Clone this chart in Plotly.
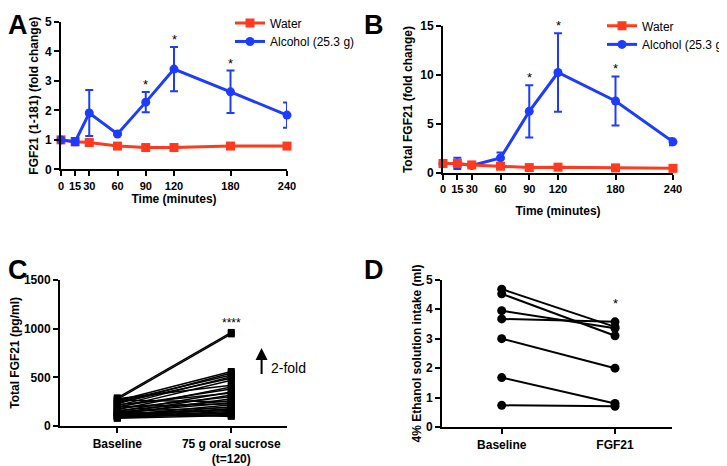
import plotly.graph_objects as go

W, H = 727, 466
# the page body has an 8px margin, so page pixel p sits at figure pixel p - 8
OFF = 8
FONT = "Liberation Sans, Arial, sans-serif"
RED = "#FF3A1E"
BLUE = "#1E3CFF"

# Panels A and B: time course
time = [0, 15, 30, 60, 90, 120, 180, 240]
a_water = [1.0, 0.94, 0.91, 0.79, 0.74, 0.74, 0.79, 0.79]
a_water_err = [0.04, 0.05, 0.10, 0.05, 0.05, 0.11, 0.07, 0.07]
a_alc = [1.0, 0.94, 1.91, 1.20, 2.28, 3.40, 2.63, 1.84]
a_alc_err = [0.03, 0.12, 0.78, 0.03, 0.34, 0.75, 0.72, 0.43]
a_star_times = [90, 120, 180]

b_water = [1.0, 1.0, 0.85, 0.72, 0.58, 0.62, 0.55, 0.50]
b_water_err = [0.12, 0.10, 0.10, 0.10, 0.08, 0.08, 0.08, 0.08]
b_alc = [1.0, 1.0, 0.80, 1.56, 6.30, 10.25, 7.35, 3.20]
b_alc_err = [0.05, 0.57, 0.10, 0.55, 2.65, 4.00, 2.50, 0.35]
b_star_times = [90, 120, 180]

# Panel C: paired individual values (pg/ml)
c_baseline = [290, 275, 260, 230, 250, 210, 240, 190, 280, 170, 200, 150, 220, 130,
              180, 265, 120, 160, 140, 200, 110, 100, 150, 90, 130, 120, 100, 85,
              110, 95, 80, 140]
c_sucrose = [960, 945, 560, 545, 525, 505, 490, 470, 420, 400, 380, 350, 340, 320,
             300, 250, 280, 260, 240, 230, 220, 200, 190, 180, 170, 160, 150, 140,
             130, 120, 110, 100]
c_labels = ["Baseline", "75 g oral sucrose<br>(t=120)"]

# Panel D: paired ethanol intake (ml)
d_baseline = [4.68, 4.52, 3.95, 3.67, 3.00, 1.68, 0.74]
d_fgf21 = [3.40, 3.10, 3.35, 3.57, 2.00, 0.80, 0.71]
d_labels = ["Baseline", "FGF21"]

fig = go.Figure()

# ---- Panel A
fig.add_trace(go.Scatter(x=time, y=a_water, mode="lines+markers", name="Water",
                         line=dict(color=RED, width=3), marker=dict(symbol="square", size=9, color=RED),
                         error_y=dict(type="data", array=a_water_err, color=RED, thickness=2, width=4),
                         xaxis="x", yaxis="y", legend="legend", cliponaxis=False))
fig.add_trace(go.Scatter(x=time, y=a_alc, mode="lines+markers", name="Alcohol (25.3 g)",
                         line=dict(color=BLUE, width=3), marker=dict(symbol="circle", size=9, color=BLUE),
                         error_y=dict(type="data", array=a_alc_err, color=BLUE, thickness=2, width=4),
                         xaxis="x", yaxis="y", legend="legend3", cliponaxis=False))

# ---- Panel B
fig.add_trace(go.Scatter(x=time, y=b_alc, mode="lines+markers", name="Alcohol (25.3 g)",
                         line=dict(color=BLUE, width=3), marker=dict(symbol="circle", size=9, color=BLUE),
                         error_y=dict(type="data", array=b_alc_err, color=BLUE, thickness=2, width=4),
                         xaxis="x2", yaxis="y2", legend="legend4", cliponaxis=False))
fig.add_trace(go.Scatter(x=time, y=b_water, mode="lines+markers", name="Water",
                         line=dict(color=RED, width=3), marker=dict(symbol="square", size=9, color=RED),
                         error_y=dict(type="data", array=b_water_err, color=RED, thickness=2, width=4),
                         xaxis="x2", yaxis="y2", legend="legend2", cliponaxis=False))

# ---- Panel C
for b, s in zip(c_baseline, c_sucrose):
    fig.add_trace(go.Scatter(x=[0, 1], y=[b, s], mode="lines+markers", showlegend=False,
                             line=dict(color="black", width=1.5),
                             marker=dict(symbol="square", size=7, color="black"),
                             xaxis="x3", yaxis="y3", cliponaxis=False))

# ---- Panel D
for b, f in zip(d_baseline, d_fgf21):
    fig.add_trace(go.Scatter(x=[0, 1], y=[b, f], mode="lines+markers", showlegend=False,
                             line=dict(color="black", width=2),
                             marker=dict(symbol="circle", size=9, color="black"),
                             xaxis="x4", yaxis="y4", cliponaxis=False))

tickfont = dict(family=FONT, size=12, color="black", weight="bold")
xtickfont = dict(family=FONT, size=11, color="black", weight="bold")
titlefont = dict(family=FONT, size=12, color="black", weight="bold")
legfont = dict(family=FONT, size=12, color="black")


def px_x(p):
    return (p - OFF) / W


def px_y(p):
    return 1 - (p - OFF) / H


def ax(domain, rng, **kw):
    d = dict(domain=domain, range=rng, showline=True, linecolor="black", linewidth=2,
             ticks="outside", ticklen=5, tickwidth=2, tickcolor="black", showgrid=False,
             zeroline=False, tickfont=tickfont, fixedrange=True, automargin=False, tickangle=0)
    d.update(kw)
    return d


def leg(x, y):
    return dict(x=px_x(x), y=px_y(y), xanchor="left", yanchor="middle", bgcolor="rgba(0,0,0,0)",
                font=legfont, itemwidth=30)


fig.update_layout(
    width=W, height=H, margin=dict(l=0, r=0, t=0, b=0),
    paper_bgcolor="white", plot_bgcolor="white",
    font=dict(family=FONT, color="black"),
    xaxis=ax([px_x(61), px_x(287)], [0, 240], tickvals=time, anchor="y", tickfont=xtickfont,
             title=dict(text="Time (minutes)", font=titlefont, standoff=4)),
    yaxis=ax([px_y(162), px_y(11)], [0, 5], tickvals=[0, 1, 2, 3, 4, 5], anchor="x",
             title=dict(text="FGF21 (1-181) (fold change)", font=titlefont, standoff=4)),
    xaxis2=ax([px_x(443), px_x(673)], [0, 240], tickvals=time, anchor="y2", tickfont=xtickfont,
              title=dict(text="Time (minutes)", font=titlefont, standoff=12)),
    yaxis2=ax([px_y(166), px_y(15)], [0, 15], tickvals=[0, 5, 10, 15], anchor="x2",
              title=dict(text="Total FGF21 (fold change)", font=titlefont, standoff=5)),
    xaxis3=ax([px_x(60), px_x(287)], [-0.503, 1.489], tickvals=[0, 1], ticktext=c_labels, anchor="y3"),
    yaxis3=ax([px_y(425), px_y(275)], [0, 1500], tickvals=[0, 500, 1000, 1500], anchor="x3",
              title=dict(text="Total FGF21 (pg/ml)", font=titlefont, standoff=4)),
    xaxis4=ax([px_x(442), px_x(672)], [-0.527, 1.503], tickvals=[0, 1], ticktext=d_labels, anchor="y4"),
    yaxis4=ax([px_y(426), px_y(275)], [0, 5], tickvals=[0, 1, 2, 3, 4, 5], anchor="x4",
              title=dict(text="4% Ethanol solution intake (ml)", font=titlefont, standoff=2)),
    legend=leg(230, 12),
    legend3=leg(230, 31),
    legend2=leg(602, 15),
    legend4=leg(602, 34),
)

ann = []
# significance stars
for t in a_star_times:
    i = time.index(t)
    ann.append(dict(x=t, y=a_alc[i] + a_alc_err[i], xref="x", yref="y", text="*", showarrow=False,
                    yanchor="bottom", yshift=-2, font=dict(family=FONT, size=13, color="black")))
for t in b_star_times:
    i = time.index(t)
    ann.append(dict(x=t, y=b_alc[i] + b_alc_err[i], xref="x2", yref="y2", text="*", showarrow=False,
                    yanchor="bottom", yshift=-2, font=dict(family=FONT, size=13, color="black")))
ann.append(dict(x=1, y=max(c_sucrose), xref="x3", yref="y3", text="****", showarrow=False,
                yanchor="bottom", yshift=0, font=dict(family=FONT, size=12, color="black")))
ann.append(dict(x=1, y=max(d_fgf21), xref="x4", yref="y4", text="*", showarrow=False,
                yanchor="bottom", yshift=9, font=dict(family=FONT, size=13, color="black")))
# 2-fold arrow in panel C
ann.append(dict(x=1.266, y=800, xref="x3", yref="y3", ax=1.266, ay=520, axref="x3", ayref="y3",
                text="", showarrow=True, arrowhead=2, arrowsize=1.2, arrowwidth=2, arrowcolor="black"))
ann.append(dict(x=1.33, y=600, xref="x3", yref="y3", text="2-fold", showarrow=False,
                xanchor="left", font=dict(family=FONT, size=14, color="black")))
# panel letters
for letter, x, y, xs, ys in [("A", 8, 8, -2, 11), ("B", 362, 8, 0, 11),
                             ("C", 8, 256, -2, 8), ("D", 362, 256, 0, 8)]:
    ann.append(dict(x=px_x(x), y=px_y(y), xref="paper", yref="paper", text=letter, showarrow=False,
                    xanchor="left", yanchor="top", xshift=xs, yshift=ys,
                    font=dict(family=FONT, size=27, color="black", weight="bold")))
fig.update_layout(annotations=ann)

fig.write_html("out.html")
